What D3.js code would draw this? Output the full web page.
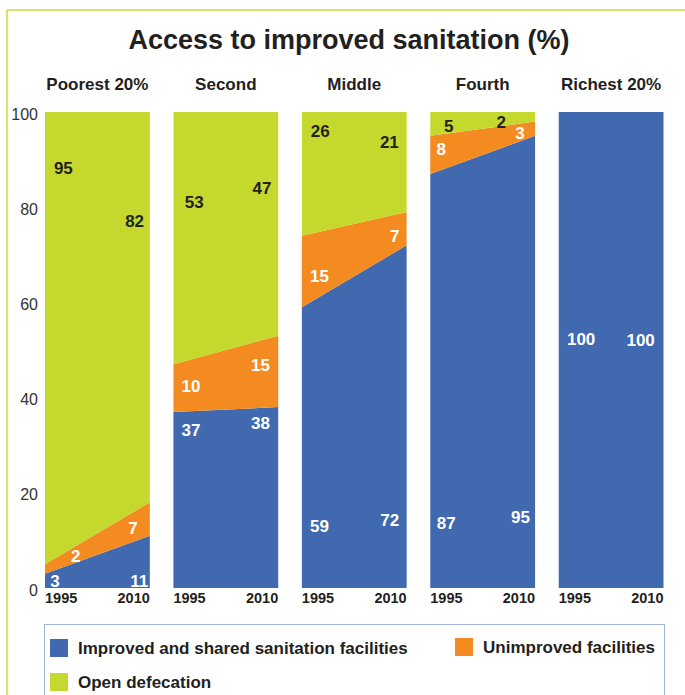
<!DOCTYPE html>
<html>
<head>
<meta charset="utf-8">
<script src="https://cdn.jsdelivr.net/npm/d3@7/dist/d3.min.js"></script>
<style>
  html, body { margin: 0; padding: 0; background: #fff; }
  svg { display: block; font-family: "Liberation Sans", Arial, sans-serif; }
</style>
</head>
<body>
<svg id="chart" width="685" height="695"></svg>
<script>
// ---- data ----
const title = "Access to improved sanitation (%)";
const groups = ["Poorest 20%", "Second", "Middle", "Fourth", "Richest 20%"];
const years = ["1995", "2010"];
const seriesNames = ["Improved and shared sanitation facilities", "Unimproved facilities", "Open defecation"];
// values per group: [1995, 2010]
const improved   = [[3, 11], [37, 38], [59, 72], [87, 95], [100, 100]];
const unimproved = [[2, 7], [10, 15], [15, 7], [8, 3], [0, 0]];
const openDef    = [[95, 82], [53, 47], [26, 21], [5, 2], [0, 0]];
const yTicks = [0, 20, 40, 60, 80, 100];

// ---- label layout (fraction across panel, value on y axis) ----
const labelLayout = [
  [[[0.096, 1.4], [0.90, 1.4]], [[0.294, 6.8], [0.839, 12.7]], [[0.175, 88.2], [0.855, 77.2]]],
  [[[0.167, 33.3], [0.83, 34.7]], [[0.167, 42.5], [0.83, 46.8]], [[0.198, 81.1], [0.846, 84.0]]],
  [[[0.168, 13.1], [0.838, 14.3]], [[0.168, 65.5], [0.886, 74.0]], [[0.175, 96.1], [0.835, 93.8]]],
  [[[0.153, 13.7], [0.861, 14.9]], [[0.105, 92.2], [0.855, 95.6]], [[0.175, 97.1], [0.677, 98.0]]],
  [[[0.214, 52.3], [0.782, 52.2]], null, null]
];

const colors = ["#4169b0", "#f48b20", "#c5d82d"];
const labelColors = ["#ffffff", "#ffffff", "#231f20"];
const textDark = "#231f20";

const svg = d3.select("#chart");

// outer frame (top and left)
svg.append("line").attr("x1", 7).attr("y1", 10).attr("x2", 685).attr("y2", 10)
  .attr("stroke", "#c8da3a").attr("stroke-width", 1.5);
svg.append("line").attr("x1", 7).attr("y1", 10).attr("x2", 7).attr("y2", 695)
  .attr("stroke", "#c8da3a").attr("stroke-width", 1.5);

// title
svg.append("text").attr("x", 349).attr("y", 49).attr("text-anchor", "middle")
  .attr("font-size", 27).attr("font-weight", "bold").attr("fill", textDark).text(title);

// scales
const y = d3.scaleLinear().domain([0, 100]).range([588, 112]);
const band = d3.scaleBand().domain(groups).range([45, 663.5]).paddingInner(0.184).paddingOuter(0);
const bw = band.bandwidth();

// y axis
const yAxis = svg.append("g").attr("transform", "translate(42,2)")
  .call(d3.axisLeft(y).tickValues(yTicks).tickSize(0).tickPadding(4));
yAxis.select(".domain").remove();
yAxis.selectAll("text").attr("font-size", 16).attr("fill", "#333")
  .attr("font-family", "Liberation Sans, Arial, sans-serif");

const allSeries = [improved, unimproved, openDef];

groups.forEach((g, gi) => {
  const x0 = band(g);
  const x = d3.scaleLinear().domain([0, 1]).range([x0, x0 + bw]);
  const rows = [0, 1].map(t => ({ t, imp: improved[gi][t], unimp: unimproved[gi][t], open: openDef[gi][t] }));
  const stack = d3.stack().keys(["imp", "unimp", "open"])(rows);
  const area = d3.area().x(d => x(d.data.t)).y0(d => y(d[0])).y1(d => y(d[1]));
  const pg = svg.append("g");
  stack.forEach((s, si) => {
    pg.append("path").datum(s).attr("d", area).attr("fill", colors[si]);
  });

  // panel title
  svg.append("text").attr("x", x0 + bw / 2).attr("y", 89.5).attr("text-anchor", "middle")
    .attr("font-size", 17).attr("font-weight", "bold").attr("fill", textDark).text(g);

  // year labels
  svg.append("text").attr("x", x(0)).attr("y", 603).attr("text-anchor", "start")
    .attr("font-size", 14.5).attr("font-weight", "bold").attr("fill", textDark).text(years[0]);
  svg.append("text").attr("x", x(1)).attr("y", 603).attr("text-anchor", "end")
    .attr("font-size", 14.5).attr("font-weight", "bold").attr("fill", textDark).text(years[1]);

  // value labels
  allSeries.forEach((ser, si) => {
    const lay = labelLayout[gi][si];
    if (!lay) return;
    [0, 1].forEach(t => {
      const v = ser[gi][t];
      if (v === 0) return;
      svg.append("text")
        .attr("x", x(lay[t][0])).attr("y", y(lay[t][1]))
        .attr("dy", "0.36em").attr("text-anchor", "middle")
        .attr("font-size", 17).attr("font-weight", "bold")
        .attr("fill", labelColors[si]).text(v);
    });
  });
});

// legend
svg.append("rect").attr("x", 44.5).attr("y", 624.5).attr("width", 620).attr("height", 80)
  .attr("fill", "none").attr("stroke", "#9fb4dc").attr("stroke-width", 1);
const legendPos = [[50, 639], [455, 638], [50, 673]];
seriesNames.forEach((n, i) => {
  const lg = svg.append("g").attr("transform", `translate(${legendPos[i][0]},${legendPos[i][1]})`);
  lg.append("rect").attr("width", 18).attr("height", 18).attr("fill", colors[i]);
  lg.append("text").attr("x", 28).attr("y", 9).attr("dy", "0.36em")
    .attr("font-size", 17).attr("font-weight", "bold").attr("fill", textDark).text(n);
});
</script>
</body>
</html>
